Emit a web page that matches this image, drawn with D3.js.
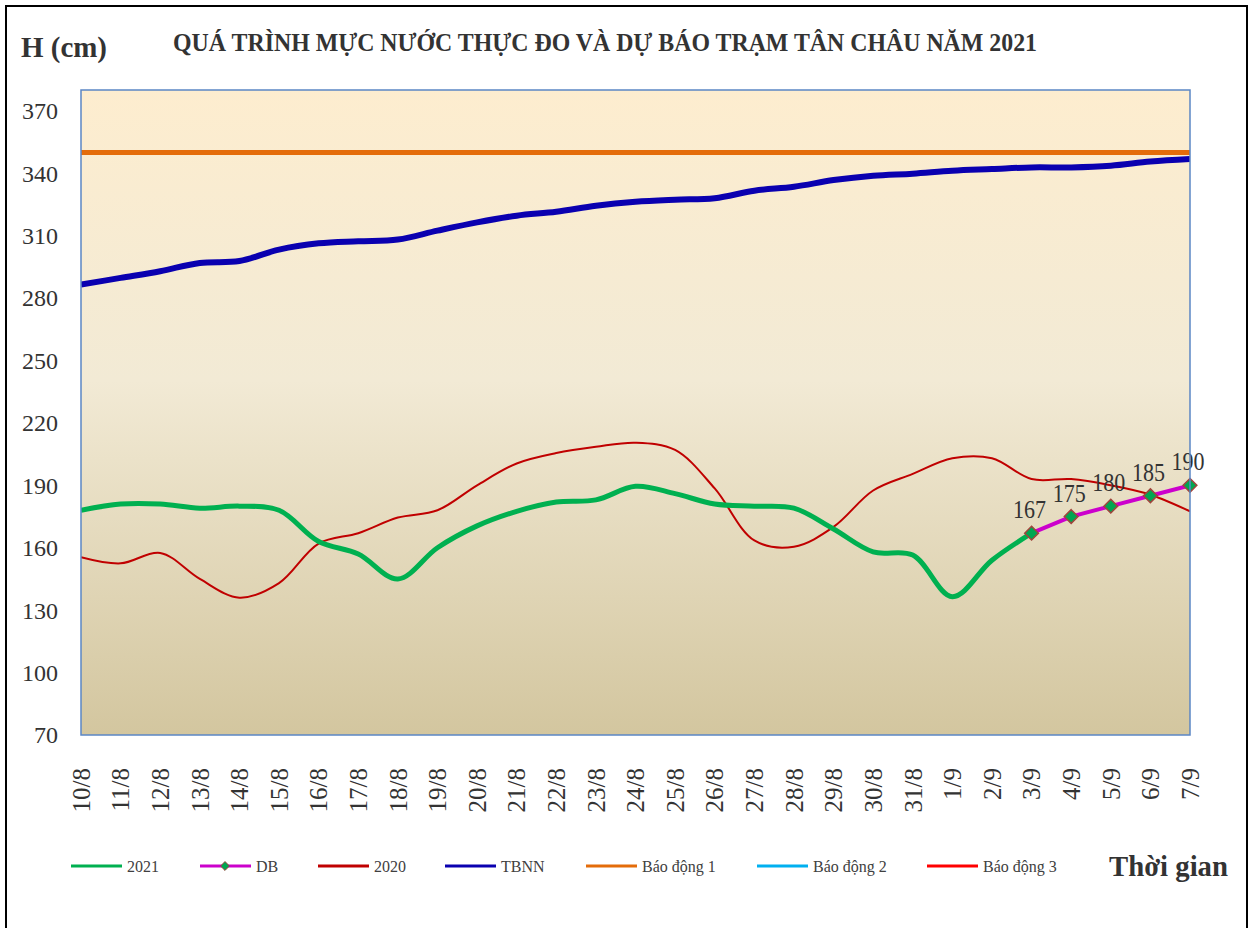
<!DOCTYPE html>
<html>
<head>
<meta charset="utf-8">
<script src="https://cdn.jsdelivr.net/npm/d3@7"></script>
<style>
  body { margin: 0; background: #fff; }
  svg { display: block; font-family: "Liberation Serif", "Times New Roman", serif; }
</style>
</head>
<body>
<div id="chart"></div>
<script>
const days = ['10/8', '11/8', '12/8', '13/8', '14/8', '15/8', '16/8', '17/8', '18/8', '19/8',
  '20/8', '21/8', '22/8', '23/8', '24/8', '25/8', '26/8', '27/8', '28/8', '29/8', '30/8', '31/8',
  '1/9', '2/9', '3/9', '4/9', '5/9', '6/9', '7/9'];

// measured 2021 (10/8 -> 3/9)
const h2021 = [178, 181, 181, 179, 180, 178, 163, 157, 145, 160, 170.5, 177.5, 182, 183, 189.5,
  186, 181, 180, 179, 169, 158, 156.5, 136.5, 154, 167];
// forecast (3/9 -> 7/9)
const dbDays = ['3/9', '4/9', '5/9', '6/9', '7/9'];
const db = [167, 175, 180, 185, 190];
const h2020 = [155.5, 152.5, 157.5, 145, 136, 143, 162, 167, 174.5, 178, 190, 200.5, 205.5, 208.5,
  210.5, 207, 188.5, 163.5, 160.5, 170, 187.5, 195.5, 203, 203, 193, 193, 190, 185.5, 177.5];
const tbnn = [286.5, 289.7, 292.9, 296.9, 297.8, 303.3, 306.3, 307.3, 308.1, 312.4, 316.4, 319.6,
  321.5, 324.4, 326.3, 327.3, 328, 331.6, 333.5, 336.7, 338.8, 339.8, 341.2, 342, 342.8, 342.8,
  343.6, 345.6, 346.8];
const alarms = [350, 400, 450]; // Báo động 1, 2, 3
const yTicks = [70, 100, 130, 160, 190, 220, 250, 280, 310, 340, 370];

const W = 1253, H = 928;
const plot = { left: 81, right: 1190, top: 90, bottom: 735 };

const svg = d3.select('#chart').append('svg').attr('width', W).attr('height', H);

const x = d3.scalePoint().domain(days).range([plot.left, plot.right]);
const y = d3.scaleLinear().domain([70, 380]).range([plot.bottom, plot.top]);

// outer frame
svg.append('rect').attr('x', 6).attr('y', 6).attr('width', 1241).attr('height', 940)
  .attr('fill', 'none').attr('stroke', '#000').attr('stroke-width', 2);

// background gradient
const grad = svg.append('defs').append('linearGradient').attr('id', 'bg')
  .attr('x1', 0).attr('y1', 0).attr('x2', 0).attr('y2', 1);
grad.append('stop').attr('offset', '0%').attr('stop-color', '#fdedcf');
grad.append('stop').attr('offset', '45%').attr('stop-color', '#f2ead5');
grad.append('stop').attr('offset', '100%').attr('stop-color', '#d3c69f');

svg.select('defs').append('clipPath').attr('id', 'clip').append('rect')
  .attr('x', plot.left).attr('y', plot.top)
  .attr('width', plot.right - plot.left).attr('height', plot.bottom - plot.top);

svg.append('rect').attr('x', plot.left).attr('y', plot.top)
  .attr('width', plot.right - plot.left).attr('height', plot.bottom - plot.top)
  .attr('fill', 'url(#bg)');

const g = svg.append('g').attr('clip-path', 'url(#clip)');
const smooth = d3.line().x(d => x(d[0])).y(d => y(d[1])).curve(d3.curveCatmullRom.alpha(0.5));
const straight = d3.line().x(d => x(d[0])).y(d => y(d[1]));

// alarm levels
const alarmColors = ['#e46c0a', '#00b0f0', '#ff0000'];
alarms.forEach((a, i) => {
  g.append('path').datum(days.map(d => [d, a]))
    .attr('d', straight).attr('fill', 'none')
    .attr('stroke', alarmColors[i]).attr('stroke-width', 5);
});

g.append('path').datum(days.map((d, i) => [d, tbnn[i]]))
  .attr('d', smooth).attr('fill', 'none').attr('stroke', '#0a00b0').attr('stroke-width', 6);

g.append('path').datum(days.map((d, i) => [d, h2020[i]]))
  .attr('d', smooth).attr('fill', 'none').attr('stroke', '#c00000').attr('stroke-width', 2);

g.append('path').datum(h2021.map((v, i) => [days[i], v]))
  .attr('d', smooth).attr('fill', 'none').attr('stroke', '#00b050').attr('stroke-width', 5);

g.append('path').datum(dbDays.map((d, i) => [d, db[i]]))
  .attr('d', straight).attr('fill', 'none').attr('stroke', '#cc00cc').attr('stroke-width', 4);

const diamond = d3.symbol().type(d3.symbolDiamond2).size(120);
svg.selectAll('.mk').data(dbDays.map((d, i) => [d, db[i]])).enter().append('path')
  .attr('transform', d => `translate(${x(d[0])},${y(d[1])})`)
  .attr('d', diamond).attr('fill', '#00a651').attr('stroke', '#a0443c').attr('stroke-width', 1.5);

svg.selectAll('.lbl').data(dbDays.map((d, i) => [d, db[i]])).enter().append('text')
  .attr('x', d => x(d[0]) - 2).attr('y', d => y(d[1]) - 15)
  .attr('text-anchor', 'middle').attr('font-size', 25).attr('fill', '#333')
  .attr('textLength', 33).attr('lengthAdjust', 'spacingAndGlyphs')
  .text(d => d[1]);

// plot border
svg.append('rect').attr('x', plot.left).attr('y', plot.top)
  .attr('width', plot.right - plot.left).attr('height', plot.bottom - plot.top)
  .attr('fill', 'none').attr('stroke', '#5b86c5').attr('stroke-width', 1.5);

// y axis labels
svg.selectAll('.yt').data(yTicks).enter().append('text')
  .attr('x', 58).attr('y', d => y(d)).attr('dy', '0.35em')
  .attr('text-anchor', 'end').attr('font-size', 24).attr('fill', '#333')
  .text(d => d);

// x axis labels (rotated)
svg.selectAll('.xt').data(days).enter().append('text')
  .attr('transform', d => `translate(${x(d)},768) rotate(-90)`)
  .attr('dy', '0.35em').attr('text-anchor', 'end')
  .attr('font-size', 25).attr('fill', '#333')
  .text(d => d);

// titles
svg.append('text').attr('x', 21).attr('y', 57).attr('font-size', 29).attr('font-weight', 'bold')
  .attr('fill', '#333').attr('textLength', 86).attr('lengthAdjust', 'spacingAndGlyphs').text('H (cm)');
svg.append('text').attr('x', 173).attr('y', 51).attr('font-size', 25).attr('font-weight', 'bold')
  .attr('fill', '#333').attr('textLength', 864).attr('lengthAdjust', 'spacingAndGlyphs')
  .text('QUÁ TRÌNH MỰC NƯỚC THỰC ĐO VÀ DỰ BÁO TRẠM TÂN CHÂU NĂM 2021');
svg.append('text').attr('x', 1109).attr('y', 876).attr('font-size', 30).attr('font-weight', 'bold')
  .attr('fill', '#333').attr('textLength', 119).attr('lengthAdjust', 'spacingAndGlyphs').text('Thời gian');

// legend
const legendItems = [
  { name: '2021', color: '#00b050', x: 71 },
  { name: 'DB', color: '#cc00cc', x: 200, marker: true },
  { name: '2020', color: '#c00000', x: 318 },
  { name: 'TBNN', color: '#0a00b0', x: 445 },
  { name: 'Báo động 1', color: '#e46c0a', x: 586 },
  { name: 'Báo động 2', color: '#00b0f0', x: 757 },
  { name: 'Báo động 3', color: '#ff0000', x: 927 },
];
const lg = svg.append('g');
legendItems.forEach(it => {
  lg.append('line').attr('x1', it.x).attr('x2', it.x + 51).attr('y1', 866).attr('y2', 866)
    .attr('stroke', it.color).attr('stroke-width', 3);
  if (it.marker) {
    lg.append('path').attr('transform', `translate(${it.x + 25},866)`)
      .attr('d', d3.symbol().type(d3.symbolDiamond2).size(50))
      .attr('fill', '#00a651').attr('stroke', '#a0443c').attr('stroke-width', 1);
  }
  lg.append('text').attr('x', it.x + 56).attr('y', 866).attr('dy', '0.35em')
    .attr('font-size', 16).attr('fill', '#404040').text(it.name);
});
</script>
</body>
</html>
